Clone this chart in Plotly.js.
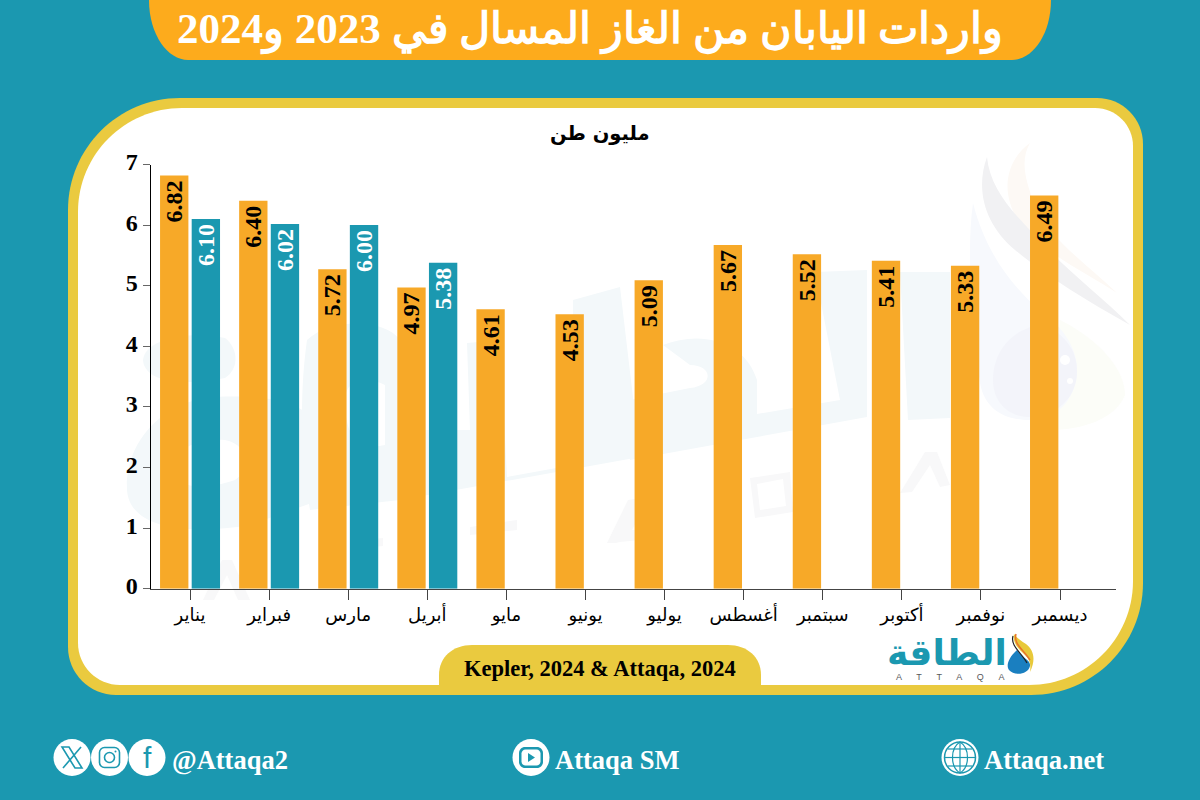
<!DOCTYPE html>
<html>
<head>
<meta charset="utf-8">
<script src="https://cdn.plot.ly/plotly-3.0.1.min.js"></script>
<style>html,body{margin:0;padding:0;background:#1b98b0}#chart{width:1200px;height:800px}</style>
</head>
<body>
<div id="chart"></div>
<script>
// Data
const months = ["يناير","فبراير","مارس","أبريل","مايو","يونيو","يوليو","أغسطس","سبتمبر","أكتوبر","نوفمبر","ديسمبر"];
// Bar heights as drawn in the picture (March 2023 is drawn near 5.27 although printed 5.72)
const heights2023 = [6.82,6.40,5.27,4.97,4.61,4.53,5.09,5.67,5.52,5.41,5.33,6.49];
const labels2023 = ["6.82","6.40","5.72","4.97","4.61","4.53","5.09","5.67","5.52","5.41","5.33","6.49"];
const heights2024 = [6.10,6.02,6.00,5.38];
const labels2024 = ["6.10","6.02","6.00","5.38"];
const yTicks = [0,1,2,3,4,5,6,7];
const titleText = "واردات اليابان من الغاز المسال في 2023 و2024";
const unitText = "مليون طن";
const sourceText = "Kepler, 2024 &amp; Attaqa, 2024";

// Colours
const TEAL="#1b98b0", GOLD="#eaca3f", ORANGE="#f7a928", BANNER="#fdab1c", WM="#f3f8fa", WG="#f8f8f9";
const SERIF="'Liberation Serif','DejaVu Serif',serif";
const ARABIC="'DejaVu Sans','Noto Sans',sans-serif";
const W=1200,H=800;

// Pixel helpers for decoration (margins are 0, so paper == page)
const nx=x=>x/W, ny=y=>1-y/H;
function path(d){let i=0;return d.replace(/-?\d+(\.\d+)?/g,m=>{const v=+m;return (i++%2===0?nx(v):ny(v)).toFixed(5);});}
function roundRect(x0,y0,x1,y1,tl,tr,br,bl){const k=.4477;
 return `M ${x0+tl} ${y0} L ${x1-tr} ${y0} C ${x1-tr*k} ${y0} ${x1} ${y0+tr*k} ${x1} ${y0+tr} L ${x1} ${y1-br} C ${x1} ${y1-br*k} ${x1-br*k} ${y1} ${x1-br} ${y1} L ${x0+bl} ${y1} C ${x0+bl*k} ${y1} ${x0} ${y1-bl*k} ${x0} ${y1-bl} L ${x0} ${y0+tl} C ${x0} ${y0+tl*k} ${x0+tl*k} ${y0} ${x0+tl} ${y0} Z`;}
const fillPath=(d,c,layer='below',op=1)=>({type:'path',xref:'paper',yref:'paper',path:path(d),fillcolor:c,line:{width:0},layer,opacity:op});
const linePath=(d,c,w,layer='above')=>({type:'path',xref:'paper',yref:'paper',path:path(d),fillcolor:'rgba(0,0,0,0)',line:{color:c,width:w},layer});
const circle=(cx,cy,r,c,lc,lw,layer='above')=>({type:'circle',xref:'paper',yref:'paper',x0:nx(cx-r),x1:nx(cx+r),y0:ny(cy+r),y1:ny(cy-r),fillcolor:c,line:{color:lc||c,width:lw||0},layer});
const ann=(x,y,text,size,color,font,bold)=>({xref:'paper',yref:'paper',x:nx(x),y:ny(y),text:bold?`<b>${text}</b>`:text,showarrow:false,xanchor:'center',yanchor:'middle',font:{size,color,family:font}});

const shapes=[
 // panel
 fillPath(roundRect(68,98,1143,695,112,46,112,48),GOLD),
 fillPath(roundRect(78,108,1133,685,104,38,104,42),"#ffffff"),
 // title banner
 fillPath("M 149 0 L 1051 0 C 1051 35 1032 60 1012 60 L 188 60 C 168 60 149 35 149 0 Z",BANNER),
 // source banner
 fillPath("M 439 686 L 439 675 C 439 657 453 645 472 645 L 728 645 C 747 645 761 657 761 675 L 761 686 Z",GOLD),
 // watermark, word
 fillPath("M 143 360 C 145 340 185 330 225 338 C 240 350 238 370 225 378 C 190 385 145 385 143 360 Z",WM),
 fillPath("M 127 490 C 125 440 165 400 215 397 C 265 395 300 400 320 425 L 320 500 L 250 525 C 190 535 130 530 127 490 Z M 175 470 C 178 490 205 490 235 480 C 250 470 250 445 225 440 C 195 438 173 450 175 470 Z",WM),
 fillPath("M 307 340 C 330 318 385 318 400 340 L 400 430 L 470 430 L 467 343 L 500 340 L 507 477 L 573 465 L 573 300 L 620 287 L 640 457 L 400 500 L 310 510 C 300 450 300 390 307 340 Z M 345 400 C 345 440 360 450 385 445 L 385 385 C 365 375 345 380 345 400 Z",WM),
 fillPath("M 663 345 C 700 330 745 340 757 380 L 757 414 L 840 400 L 815 272 L 867 270 L 867 417 L 630 460 L 630 400 L 690 388 C 715 385 712 365 690 365 Z",WM),
 fillPath("M 900 272 L 950 272 L 950 418 L 908 420 Z",WM),
 // watermark, letters
 fillPath("M 203 600 L 222 560 L 232 560 L 250 600 L 238 600 L 227 575 L 214 600 Z",WG),
 fillPath("M 353 541 L 383 538 L 383 546 L 353 549 Z",WG),
 fillPath("M 470 527 L 517 520 L 517 530 L 470 535 Z",WG),
 fillPath("M 607 543 L 628 500 L 640 498 L 640 515 L 632 530 L 640 530 L 640 540 L 620 542 L 616 543 Z",WG),
 fillPath("M 750 478 L 790 472 L 793 512 L 755 518 Z M 757 484 L 760 510 L 786 506 L 783 479 Z",WG),
 fillPath("M 900 493 L 925 452 L 937 452 L 950 485 L 940 487 L 930 465 L 912 492 Z",WG),
 // watermark, droplet
 fillPath("M 1060 320 C 1100 340 1125 370 1125 395 C 1115 420 1080 430 1050 430 Z","#fcfdf8"),
 fillPath("M 973 203 C 965 260 975 340 980 383 C 985 410 1005 420 1030 420 C 1060 420 1077 395 1077 370 C 1077 345 1060 325 1040 310 C 1010 285 985 250 973 203 Z","#f7f9fd"),
 fillPath("M 993 380 C 993 345 1020 325 1045 325 C 1065 335 1077 350 1077 372 C 1077 398 1055 417 1030 417 C 1008 417 993 402 993 380 Z","#f3f4fa"),
 circle(1065,360,5,"#ffffff",null,0,'below'),
 circle(1070,381,3,"#ffffff",null,0,'below'),
 fillPath("M 1030 143 C 1000 165 1000 205 1030 235 C 1060 262 1090 275 1117 293 C 1085 262 1050 240 1035 205 C 1025 180 1020 160 1030 143 Z","#fdf9f5"),
 fillPath("M 987 157 C 975 190 985 225 1015 250 C 1045 275 1085 300 1130 325 C 1100 295 1060 265 1040 240 C 1015 215 990 190 987 157 Z","#f1f1f3"),
 // logo droplet
 fillPath("M 1017 650 C 1008 658 1006 666 1009 670 C 1014 676 1028 675 1030 666 C 1031 660 1022 658 1017 650 Z","#1a7fc0"),
 fillPath("M 1014 634 C 1012 644 1020 650 1025 655 C 1030 660 1031 664 1030 672 C 1036 660 1034 650 1026 644 C 1020 640 1017 638 1014 634 Z","#e8c93a"),
 linePath("M 1016 634 C 1013 644 1024 650 1030 660","#e8742a",1.5),
 linePath("M 1013 636 C 1010 646 1022 653 1027 663","#222222",1.2),
 // social icons
 circle(72,757.5,18.5,"#ffffff"),circle(109.5,757.5,18.5,"#ffffff"),circle(147,757.5,18.5,"#ffffff"),
 circle(531,757.5,18.5,"#ffffff"),
 circle(960,757.5,18.5,"#ffffff"),
 // X
 linePath("M 62 747 L 69 747 L 82 768 L 75 768 Z",TEAL,1.6),
 linePath("M 81 747 L 63 768",TEAL,1.6),
 // Instagram
 linePath(roundRect(99.5,747.5,119.5,767.5,5,5,5,5),TEAL,1.6),
 circle(109.5,757.5,5,"rgba(0,0,0,0)",TEAL,1.6),
 circle(115.5,751.5,1,TEAL),
 // YouTube
 fillPath(roundRect(519,747,543,768,6,6,6,6),TEAL,"above"),
 fillPath(roundRect(521.5,749.5,540.5,765.5,4,4,4,4),"#ffffff","above"),
 fillPath("M 528 753 L 535 757.5 L 528 762 Z",TEAL,"above"),
 // globe
 circle(960,757.5,15.5,"#ffffff",TEAL,1.5),
 linePath("M 960 742 C 950 748 950 767 960 773 C 970 767 970 748 960 742 Z",TEAL,1.2),
 linePath("M 960 742 L 960 773",TEAL,1.2),
 linePath("M 945 757.5 L 975 757.5",TEAL,1.2),
 linePath("M 948 749 L 972 749",TEAL,1.2),
 linePath("M 948 766 L 972 766",TEAL,1.2)
];

const annotations=[
 ann(590,30,titleText,43,"#ffffff",SERIF+",sans-serif",true),
 ann(600,133,unitText,19.5,"#000000",ARABIC,true),
 ann(600,668,sourceText,22.5,"#000000",SERIF,true),
 ann(947,652,"الطاقة",36,TEAL,ARABIC,true),
 ann(950,677,"A      T      T      A      Q      A",9,"#58595b","'Liberation Sans',sans-serif",false),
 ann(147,757,"f",30,TEAL,"'Liberation Sans',sans-serif",false),
 ann(230,760,"@Attaqa2",26.5,"#ffffff",SERIF,true),
 ann(617.5,760,"Attaqa SM",26.5,"#ffffff",SERIF,true),
 ann(1044,760,"Attaqa.net",26.5,"#ffffff",SERIF,true)
];

const axisY0=588.7, axisY7=164.5;
const barLabel='%{text}\u200A';
const traces=[
 {type:'bar',name:'2023',x:months,y:heights2023,text:labels2023,texttemplate:barLabel,textposition:'inside',insidetextanchor:'end',textangle:-90,constraintext:'none',
  cliponaxis:false,hoverinfo:'skip',marker:{color:ORANGE,line:{width:0}},insidetextfont:{family:SERIF,size:24,color:"#000000",weight:'bold'}},
 {type:'bar',name:'2024',x:months.slice(0,heights2024.length),y:heights2024,text:labels2024,texttemplate:barLabel,textposition:'inside',insidetextanchor:'end',textangle:-90,constraintext:'none',
  cliponaxis:false,hoverinfo:'skip',marker:{color:TEAL,line:{width:0}},insidetextfont:{family:SERIF,size:24,color:"#ffffff",weight:'bold'}}
];

const layout={
 width:W,height:H,margin:{l:0,r:0,t:0,b:0,pad:0},autosize:false,showlegend:false,
 paper_bgcolor:TEAL,plot_bgcolor:'rgba(0,0,0,0)',
 barmode:'group',bargap:0.20,bargroupgap:0.104,
 xaxis:{type:'category',categoryorder:'array',categoryarray:months,domain:[nx(150.5),nx(1116)],range:[-0.5,11.708],fixedrange:true,
  showgrid:false,zeroline:false,showline:true,linecolor:"#444444",linewidth:1,anchor:'y',
  ticks:'outside',ticklen:10,tickwidth:1,tickcolor:"#444444",tickangle:0,automargin:false,
  tickfont:{family:ARABIC,size:18,color:"#000000"}},
 yaxis:{domain:[ny(axisY0),ny(axisY7)],range:[0,7],tickmode:'array',tickvals:yTicks,ticktext:yTicks.map(String),fixedrange:true,
  showgrid:false,zeroline:false,showline:true,linecolor:"#000000",linewidth:1,anchor:'x',
  ticks:'outside',ticklen:7,tickwidth:1,tickcolor:"#666666",automargin:false,ticklabelshift:-3,
  tickfont:{family:SERIF,size:24,color:"#000000",weight:'bold'}},
 shapes,annotations
};
Plotly.newPlot('chart',traces,layout,{displayModeBar:false,responsive:false,staticPlot:true});
</script>
</body>
</html>
